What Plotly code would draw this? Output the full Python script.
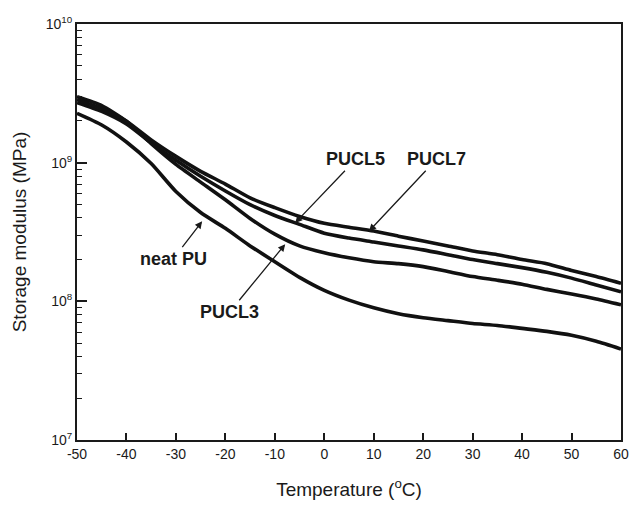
import plotly.graph_objects as go

temperature = [-50, -45, -40, -35, -30, -25, -20, -15, -10, -5, 0, 5, 10,
               15, 20, 25, 30, 35, 40, 45, 50, 55, 60]

neat_pu = [2.27e9, 1.87e9, 1.41e9, 9.86e8, 6.20e8, 4.37e8, 3.36e8, 2.51e8,
           1.93e8, 1.49e8, 1.20e8, 1.02e8, 8.98e7, 8.14e7, 7.62e7, 7.26e7,
           6.92e7, 6.70e7, 6.38e7, 6.07e7, 5.69e7, 5.15e7, 4.53e7]

pucl3 = [2.99e9, 2.58e9, 1.99e9, 1.37e9, 9.71e8, 7.24e8, 5.40e8, 3.96e8,
         3.05e8, 2.51e8, 2.24e8, 2.06e8, 1.93e8, 1.87e8, 1.78e8, 1.64e8,
         1.51e8, 1.42e8, 1.33e8, 1.22e8, 1.13e8, 1.04e8, 9.44e7]

pucl5 = [2.71e9, 2.34e9, 1.90e9, 1.39e9, 1.04e9, 7.98e8, 6.25e8, 4.98e8,
         4.16e8, 3.59e8, 3.10e8, 2.86e8, 2.68e8, 2.51e8, 2.35e8, 2.17e8,
         2.00e8, 1.87e8, 1.75e8, 1.62e8, 1.47e8, 1.31e8, 1.17e8]

pucl7 = [2.85e9, 2.46e9, 1.99e9, 1.46e9, 1.11e9, 8.66e8, 7.01e8, 5.57e8,
         4.74e8, 4.09e8, 3.65e8, 3.42e8, 3.21e8, 2.95e8, 2.72e8, 2.51e8,
         2.31e8, 2.17e8, 2.00e8, 1.87e8, 1.67e8, 1.51e8, 1.35e8]

series = {"neat PU": neat_pu, "PUCL3": pucl3, "PUCL5": pucl5, "PUCL7": pucl7}

x_ticks = [-50, -40, -30, -20, -10, 0, 10, 20, 30, 40, 50, 60]
x_tick_text = ["-50", "-40", "-30", "-20", "-10", "0", "10", "20", "30", "40", "50", "60"]
y_ticks = [1e7, 1e8, 1e9, 1e10]
y_tick_text = ["10<sup>7</sup>", "10<sup>8</sup>", "10<sup>9</sup>", "10<sup>10</sup>"]
y_minor = [m * 10 ** e for e in (7, 8, 9) for m in range(2, 10)]

# label text, text centre (T, log10 value), arrow tip (T, log10 value)
labels = [
    ("neat PU", (-30.5, 8.308), (-24.7, 8.577)),
    ("PUCL3", (-19.1, 7.925), (-7.9, 8.412)),
    ("PUCL5", (6.4, 9.025), (-5.9, 8.565)),
    ("PUCL7", (22.7, 9.025), (9.05, 8.506)),
]

ink = "#1a1a1a"
font = "Liberation Sans, Arial, sans-serif"

fig = go.Figure()
for name, vals in series.items():
    fig.add_trace(go.Scatter(x=temperature, y=vals, mode="lines", name=name,
                             line=dict(color="#111111", width=3.6, shape="spline",
                                       smoothing=0.6)))

annotations = []
for text, (tx, ty), (hx, hy) in labels:
    annotations.append(dict(x=hx, y=hy, ax=tx, ay=ty, xref="x", yref="y",
                            axref="x", ayref="y", text="<b>%s</b>" % text,
                            showarrow=True, arrowhead=2, arrowsize=1.1,
                            arrowwidth=1.3, arrowcolor=ink, standoff=0,
                            font=dict(family=font, size=18, color=ink)))

fig.update_layout(
    width=639, height=507,
    margin=dict(l=77, r=10, t=24, b=59),
    paper_bgcolor="white", plot_bgcolor="white",
    showlegend=False,
    font=dict(family=font, size=14, color=ink),
    annotations=annotations,
)

fig.update_xaxes(
    range=[-50, 60], tickmode="array", tickvals=x_ticks, ticktext=x_tick_text,
    ticks="inside", ticklen=7, tickwidth=1.6, tickcolor=ink,
    showline=True, linewidth=2, linecolor=ink, mirror=True,
    showgrid=False, zeroline=False,
    tickfont=dict(size=14, color=ink),
    title=dict(text="Temperature (<sup>o</sup>C)", font=dict(size=19, color=ink), standoff=22),
)

fig.update_yaxes(
    type="log", range=[7, 10], tickmode="array", tickvals=y_ticks, ticktext=y_tick_text,
    ticks="inside", ticklen=10, tickwidth=1.6, tickcolor=ink,
    minor=dict(tickmode="array", tickvals=y_minor, ticks="inside", ticklen=5,
               tickwidth=1.4, tickcolor=ink, showgrid=False),
    showline=True, linewidth=2, linecolor=ink, mirror=True,
    showgrid=False, zeroline=False,
    tickfont=dict(size=14, color=ink),
    title=dict(text="Storage modulus (MPa)", font=dict(size=19, color=ink), standoff=14),
)

# remove the page's default body margin so the figure fills the window exactly
fig.write_html("out.html", config={"displayModeBar": False},
               post_script="document.body.style.margin='0';document.body.style.overflow='hidden';")
